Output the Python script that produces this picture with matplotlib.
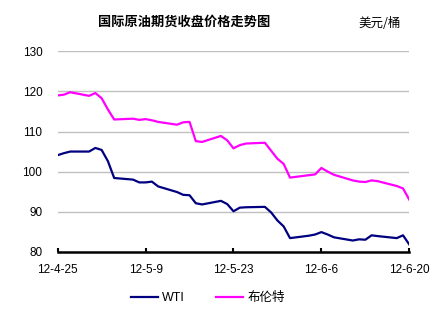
import matplotlib
matplotlib.use("Agg")
import matplotlib.pyplot as plt
import pandas as pd

plt.rcParams['font.family'] = ['Liberation Sans', 'Noto Sans CJK SC', 'DejaVu Sans']

dates = ["2012-04-25", "2012-04-26", "2012-04-27", "2012-04-30", "2012-05-01", "2012-05-02",
         "2012-05-03", "2012-05-04", "2012-05-07", "2012-05-08", "2012-05-09", "2012-05-10",
         "2012-05-11", "2012-05-14", "2012-05-15", "2012-05-16", "2012-05-17", "2012-05-18",
         "2012-05-21", "2012-05-22", "2012-05-23", "2012-05-24", "2012-05-25", "2012-05-28",
         "2012-05-29", "2012-05-30", "2012-05-31", "2012-06-01", "2012-06-04", "2012-06-05",
         "2012-06-06", "2012-06-07", "2012-06-08", "2012-06-11", "2012-06-12", "2012-06-13",
         "2012-06-14", "2012-06-15", "2012-06-18", "2012-06-19", "2012-06-20"]

wti = [104.1, 104.6, 105.0, 105.0, 105.9, 105.4, 102.6, 98.4, 98.0, 97.3, 97.3, 97.5,
       96.3, 94.9, 94.2, 94.1, 92.1, 91.8, 92.7, 91.9, 90.1, 91.0, 91.1, 91.2,
       89.8, 87.8, 86.3, 83.4, 84.0, 84.3, 84.9, 84.3, 83.6, 82.8, 83.1, 83.0,
       84.1, 83.9, 83.4, 84.1, 81.8]

brent = [119.0, 119.2, 119.8, 118.9, 119.6, 118.3, 115.5, 113.0, 113.2, 112.9, 113.1, 112.8,
         112.4, 111.7, 112.3, 112.4, 107.6, 107.4, 108.9, 107.8, 105.8, 106.6, 107.0, 107.2,
         105.2, 103.2, 101.9, 98.5, 99.1, 99.3, 100.9, 100.0, 99.2, 97.8, 97.5, 97.4,
         97.8, 97.6, 96.4, 95.8, 93.0]

tick_labels = ["12-4-25", "12-5-9", "12-5-23", "12-6-6", "12-6-20"]
tick_dates = ["2012-04-25", "2012-05-09", "2012-05-23", "2012-06-06", "2012-06-20"]
yticks = [80, 90, 100, 110, 120, 130]

start = pd.Timestamp(dates[0])
x = [(pd.Timestamp(d) - start).days for d in dates]
xt = [(pd.Timestamp(d) - start).days for d in tick_dates]

fig = plt.figure(figsize=(4.42, 3.24), dpi=100)
ax = fig.add_axes([0.1305, 0.223, 0.7955, 0.6185])

ax.plot(x, wti, color='#000080', lw=1.6, label='WTI')
ax.plot(x, brent, color='#ff00ff', lw=1.6, label='布伦特')

ax.set_xlim(xt[0], xt[-1])
ax.set_ylim(80, 130)
ax.set_yticks(yticks)
ax.set_yticklabels([str(v) for v in yticks], fontsize=8.5)
ax.set_xticks(xt)
ax.set_xticklabels(tick_labels, fontsize=8.5)
ax.yaxis.grid(True, color='#c0c0c0', lw=1)
ax.set_axisbelow(True)
for s in ['top', 'right', 'left']:
    ax.spines[s].set_visible(False)
ax.spines['bottom'].set_linewidth(1.8)
ax.spines['bottom'].set_color('black')
ax.tick_params(axis='y', length=0, pad=11)
ax.tick_params(axis='x', direction='in', length=3, width=1.5, pad=9)

fig.text(0.416, 0.932, '国际原油期货收盘价格走势图', ha='center', va='center',
         fontsize=9.5, fontweight='bold', family=['Noto Sans CJK SC', 'DejaVu Sans'])
fig.text(0.86, 0.928, '美元/桶', ha='center', va='center', fontsize=9,
         family=['Noto Sans CJK SC', 'DejaVu Sans'])

fig.legend(loc='center', bbox_to_anchor=(0.47, 0.08), ncol=2, frameon=False,
           fontsize=9, handlelength=2.2, handletextpad=0.3, columnspacing=2.5,
           prop={'family': ['Liberation Sans', 'Noto Sans CJK SC'], 'size': 9})

fig.savefig('out.png', dpi=100, facecolor='white')
